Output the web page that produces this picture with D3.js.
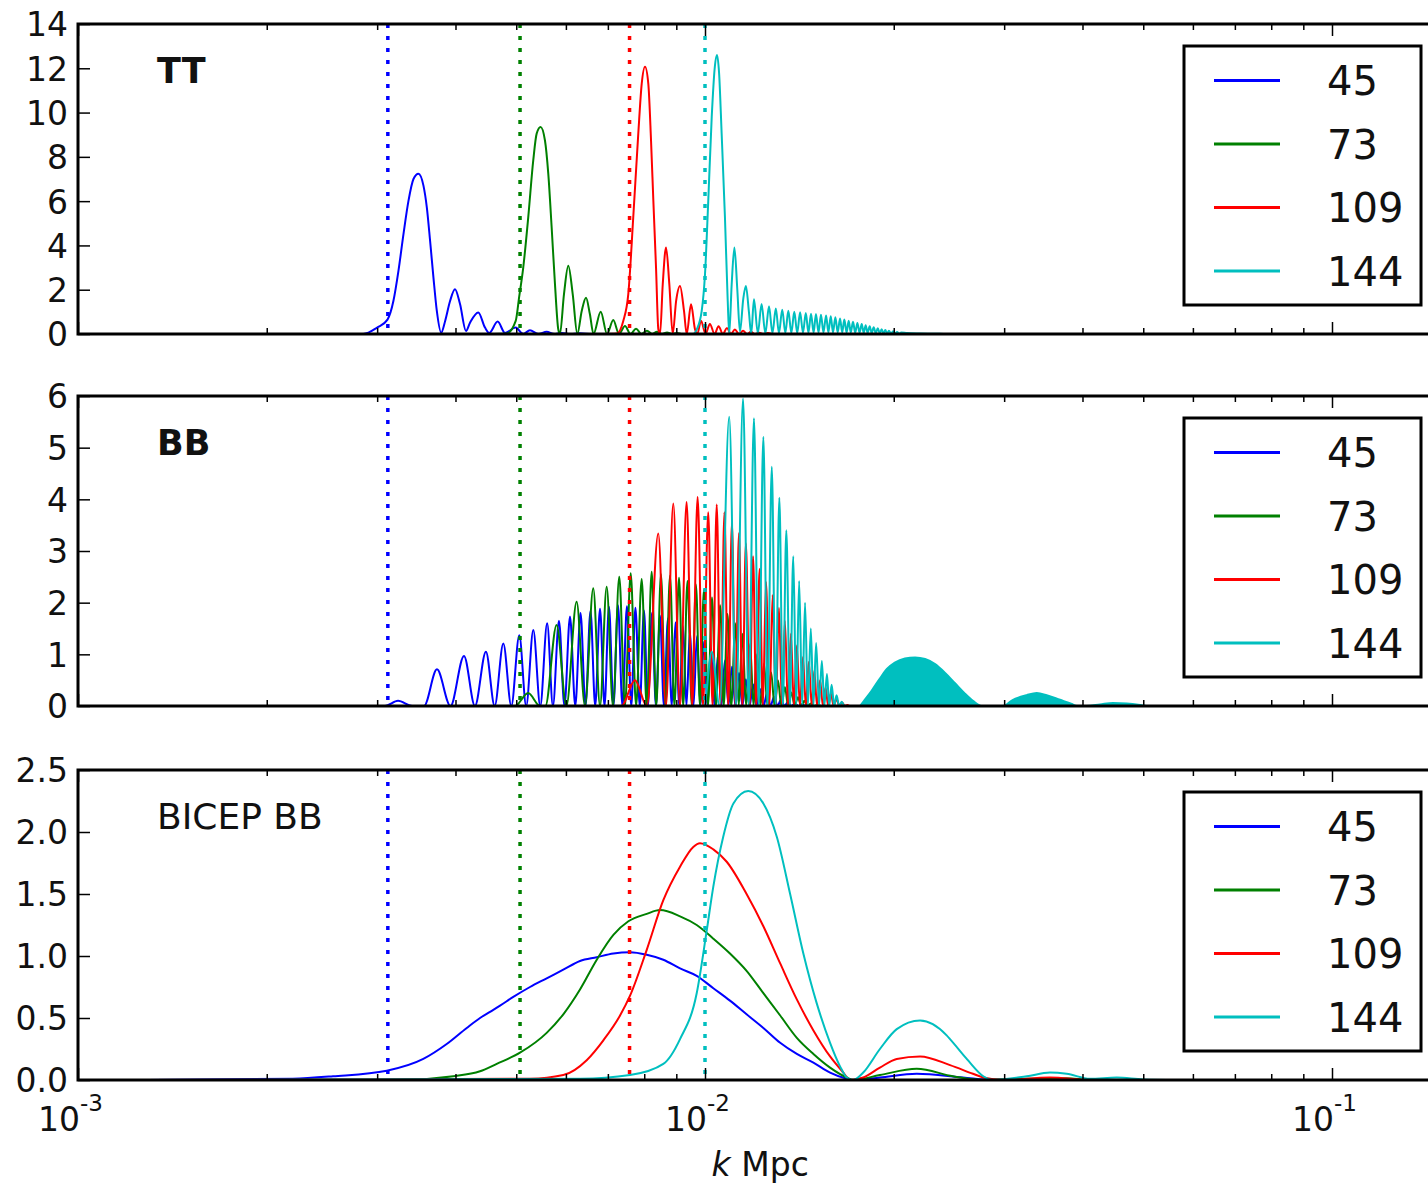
<!DOCTYPE html>
<html>
<head>
<meta charset="utf-8">
<script src="https://cdn.jsdelivr.net/npm/d3@7"></script>
<style>
  body { margin: 0; background: #fff; }
  svg { display: block; font-family: "DejaVu Sans", sans-serif; }
</style>
</head>
<body>
<svg id="chart" width="1428" height="1186"></svg>
<script>
// k values below are in units of 1e-3 Mpc^-1
var kUnit = 1e-3;

var ells = ["45", "73", "109", "144"];
var colors = ["#0000ff", "#008000", "#ff0000", "#00bfbf"];

// dotted markers, one per multipole
var vlineK = [3.12, 5.07, 7.58, 10.0];

// ---- TT kernels [k, value]
var ttBlue = [[2.5,0],[2.85,0],[3.0,0.29],[3.116,0.65],[3.185,1.5],[3.244,2.85],[3.304,4.5],[3.365,6.0],[3.428,7.0],[3.491,7.24],[3.556,6.7],[3.601,5.7],[3.644,4.2],[3.689,2.55],[3.735,1.04],[3.795,0.06],[3.851,0.59],[3.922,1.5],[3.993,2.02],[4.067,1.35],[4.157,0.14],[4.219,0.51],[4.349,0.97],[4.458,0.29],[4.529,0.05],[4.670,0.56],[4.797,0.05],[4.990,0.29],[5.130,0],[5.258,0.17],[5.421,0],[5.590,0.1],[5.75,0],[5.9,0.05],[6.1,0],[6.3,0.03],[6.6,0],[9,0]];

var ttGreen = [[4.6,0],[4.827,0.02],[4.990,0.59],[5.055,1.7],[5.130,3.0],[5.225,5.27],[5.322,7.84],[5.389,9.05],[5.468,9.35],[5.556,8.74],[5.624,7.24],[5.694,4.82],[5.764,2.25],[5.834,0.21],[5.870,0],[5.958,1.8],[6.053,3.08],[6.152,1.8],[6.257,0],[6.359,1.04],[6.460,1.64],[6.552,0.9],[6.640,0],[6.818,1.01],[6.979,0],[7.140,0.63],[7.291,0],[7.454,0.36],[7.606,0],[7.762,0.24],[7.920,0],[8.08,0.15],[8.233,0],[8.385,0.1],[8.541,0],[8.698,0.07],[8.861,0],[9.02,0.05],[9.2,0],[10,0]];

var ttRed = [[6.9,0],[7.230,0.02],[7.407,0.59],[7.545,1.8],[7.684,5.27],[7.827,9.05],[7.926,11.3],[8.023,12.07],[8.121,11.3],[8.202,8.74],[8.272,6.03],[8.354,3.0],[8.425,0.21],[8.478,0],[8.563,2.25],[8.667,3.91],[8.772,2.25],[8.882,0],[8.994,1.5],[9.123,2.17],[9.258,1.04],[9.350,0],[9.500,1.34],[9.640,0.21],[9.722,0],[9.854,0.6],[10.02,0],[10.18,0.45],[10.36,0],[10.51,0.35],[10.68,0],[10.84,0.27],[11.00,0],[11.16,0.2],[11.33,0],[11.50,0.15],[11.67,0],[11.84,0.1],[12.01,0],[12.2,0.06],[12.4,0],[12.6,0.04],[12.8,0],[14,0]];

var ttCyan = [[9.45,0],[9.57,0],[9.70,0.2],[9.88,1.04],[10.0,2.7],[10.12,6.0],[10.25,9.8],[10.37,12.1],[10.45,12.6],[10.53,11.8],[10.63,9.06],[10.76,5.27],[10.87,1.5],[10.93,0],[11.03,2.25],[11.14,3.91],[11.26,2.0],[11.37,0.1],[11.51,1.6],[11.62,2.17],[11.75,1.0],[11.85,0],[11.97,1.57],
  [12.14,0.03],[12.31,1.35],[12.48,0.03],[12.65,1.25],[12.81,0.04],[12.97,1.15],[13.12,0.04],[13.28,1.1],[13.43,0.05],[13.58,1.05],[13.73,0.05],[13.88,1.0],[14.03,0.05],[14.18,0.98],[14.33,0.06],[14.48,0.95],[14.62,0.06],[14.76,0.92],[14.90,0.06],[15.03,0.9],[15.17,0.07],[15.31,0.87],[15.45,0.07],[15.60,0.84],[15.73,0.07],[15.87,0.8],[16.00,0.07],[16.14,0.76],[16.28,0.07],[16.42,0.7],[16.55,0.07],[16.68,0.65],[16.82,0.07],[16.95,0.6],[17.08,0.07],[17.22,0.55],[17.36,0.06],[17.50,0.5],[17.64,0.06],[17.78,0.45],[17.91,0.05],[18.04,0.4],[18.17,0.05],[18.31,0.35],[18.44,0.04],[18.58,0.3],[18.72,0.04],[18.86,0.26],[19.00,0.03],[19.13,0.22],[19.26,0.03],[19.39,0.18],[19.52,0.02],[19.65,0.15],[19.8,0.02],[19.95,0.12],[20.1,0.02],[20.25,0.09],[20.4,0.01],[20.55,0.07],[21,0.04],[22,0.02],[24,0.005],[26,0]];

// ---- BB kernels [k, value]
var bbBlue = [[2.715,0],[3.088,0],[3.239,0.1],[3.410,0],[3.563,0],[3.737,0.71],[3.927,0],[4.127,0.97],[4.296,0],[4.473,1.05],[4.619,0],[4.768,1.21],[4.910,0],[5.056,1.37],[5.186,0],[5.323,1.47],[5.461,0],[5.601,1.6],[5.721,0],[5.849,1.65],[5.968,0],[6.091,1.73],[6.210,0],[6.331,1.8],[6.447,0],[6.567,1.84],[6.682,0],[6.801,1.88],[6.914,0],[7.028,1.92],[7.145,0],[7.264,1.95],[7.385,0],[7.508,1.93],[7.628,0],[7.745,1.9],[7.870,0],[7.992,1.85],[8.108,0],[8.231,1.8],[8.351,0],[8.476,1.75],[8.600,0],[8.729,1.7],[8.852,0],[8.972,1.62],[9.100,0],[9.224,1.55],[9.341,0],[9.464,1.45],[9.586,0],[9.708,1.35],[9.836,0],[9.962,1.25],[10.09,0],[10.22,1.12],[10.35,0],[10.49,1.0],[10.62,0],[10.76,0.88],[10.90,0],[11.04,0.76],[11.18,0],[11.33,0.64],[11.47,0],[11.62,0.52],[11.78,0],[11.93,0.42],[12.08,0],[12.24,0.33],[12.40,0],[12.56,0.25],[12.72,0],[12.89,0.18],[13.05,0],[13.22,0.12],[13.39,0],[13.56,0.08],[13.74,0],[13.91,0.05],[14.09,0],[14.27,0.03],[14.48,0],[20,0]];

var bbGreen = [[4.711,0],[4.977,0],[5.223,0.25],[5.455,0],[5.565,0],[5.798,1.57],[6.011,0],[6.241,2.02],[6.435,0],[6.634,2.28],[6.801,0],[6.969,2.31],[7.132,0],[7.299,2.5],[7.453,0],[7.612,2.57],[7.765,0],[7.925,2.46],[8.074,0],[8.222,2.6],[8.360,0],[8.507,2.55],[8.647,0],[8.794,2.52],[8.939,0],[9.090,2.48],[9.230,0],[9.377,2.42],[9.527,0],[9.673,2.35],[9.818,0],[9.962,2.25],[10.11,0],[10.26,2.1],[10.41,0],[10.57,1.95],[10.71,0],[10.86,1.78],[11.01,0],[11.18,1.6],[11.32,0],[11.47,1.4],[11.63,0],[11.80,1.2],[11.95,0],[12.10,1.0],[12.26,0],[12.42,0.82],[12.58,0],[12.75,0.65],[12.91,0],[13.07,0.5],[13.24,0],[13.41,0.37],[13.57,0],[13.74,0.26],[13.90,0],[14.07,0.17],[14.24,0],[14.40,0.1],[14.58,0],[14.75,0.05],[14.93,0],[15.11,0.02],[15.32,0],[20,0]];

var bbRed = [[7.054,0],[7.358,0],[7.732,0.5],[8.079,0],[8.423,3.34],[8.663,0],[8.901,3.92],[9.123,0],[9.347,3.95],[9.541,0],[9.732,4.05],[9.926,0],[10.12,3.75],[10.28,0],[10.44,3.9],[10.59,0],[10.74,3.75],[10.89,0],[11.04,3.55],[11.18,0],[11.33,3.35],[11.47,0],[11.62,3.15],[11.78,0],[11.93,2.9],[12.07,0],[12.22,2.65],[12.37,0],[12.51,2.4],[12.67,0],[12.82,2.15],[12.97,0],[13.12,1.9],[13.27,0],[13.41,1.65],[13.56,0],[13.71,1.4],[13.86,0],[14.01,1.17],[14.17,0],[14.33,0.95],[14.48,0],[14.64,0.85],[14.80,0],[14.94,0.68],[15.09,0],[15.26,0.5],[15.42,0],[15.57,0.36],[15.72,0],[15.88,0.24],[16.04,0],[16.20,0.14],[16.38,0],[16.54,0.07],[16.71,0],[16.87,0.02],[17.03,0],[20.84,0],[21.63,0.04],[22.27,0.065],[23.02,0.04],[23.88,0],[30,0]];

var bbCyan = [[9.638,0],[9.962,0],[10.25,1.05],[10.55,0],[10.93,5.6],[11.21,0],[11.50,5.95],[11.74,0],[11.97,5.57],[12.18,0],[12.39,5.21],[12.58,0],[12.78,4.63],[12.96,0],[13.14,4.03],[13.31,0],[13.48,3.4],[13.66,0],[13.83,2.9],[13.98,0],[14.13,2.42],[14.29,0],[14.44,2.0],[14.59,0],[14.75,1.5],[14.89,0],[15.04,1.22],[15.20,0],[15.36,0.87],[15.50,0],[15.65,0.62],[15.78,0],[15.92,0.41],[16.07,0],[16.21,0.21],[16.37,0],[16.52,0.08],[16.69,0],[17.41,0]];

// high-k part of the 144 BB kernel oscillates too fast to resolve: envelope
var bbCyanFill = [[17.67,0],[17.93,0.1],[18.45,0.3],[18.98,0.52],[19.52,0.72],[20.08,0.84],[20.84,0.92],[21.63,0.94],[22.44,0.91],[23.28,0.81],[24.15,0.64],[25.05,0.44],[25.98,0.24],[26.75,0.1],[27.60,0],
  [29.87,0],[30.99,0.12],[32.59,0.21],[33.81,0.25],[35.07,0.21],[36.83,0.12],[38.45,0.04],[39.16,0],
  [40.62,0],[42.65,0.03],[44.74,0.06],[47.05,0.05],[49.40,0.02],[50.63,0]];

// ---- BICEP BB kernels [k, value]
var bicepBlue = [[1.288,0],[2.2,0.01],[2.551,0.03],[3.108,0.075],[3.554,0.17],[3.873,0.29],[4.169,0.42],[4.377,0.5],[4.541,0.55],[4.711,0.6],[4.946,0.67],[5.259,0.75],[5.591,0.82],[5.943,0.89],[6.319,0.96],[6.720,0.99],[7.143,1.02],[7.594,1.03],[8.074,1.01],[8.581,0.97],[9.124,0.9],[9.700,0.84],[10.31,0.74],[10.96,0.64],[11.65,0.53],[12.39,0.42],[13.18,0.3],[14.01,0.21],[14.89,0.14],[15.83,0.06],[16.83,0.01],[17.24,0],[19.01,0.02],[21.76,0.05],[25.79,0.02],[28.80,0],[56.6,0]];

var bicepGreen = [[1.288,0],[3.263,0],[3.968,0.03],[4.377,0.07],[4.654,0.13],[5.069,0.22],[5.591,0.38],[5.943,0.53],[6.319,0.73],[6.720,0.97],[7.143,1.17],[7.547,1.28],[8.074,1.34],[8.478,1.37],[9.124,1.32],[9.700,1.25],[10.31,1.14],[10.96,1.02],[11.65,0.88],[12.39,0.7],[13.18,0.52],[14.01,0.34],[14.89,0.21],[15.83,0.1],[16.83,0.02],[17.24,0],[19.01,0.04],[21.76,0.09],[24.86,0.03],[27.79,0],[32.59,0.01],[37.74,0.015],[41.12,0],[56.6,0]];

var bicepRed = [[1.288,0],[5.259,0.01],[5.943,0.04],[6.476,0.16],[6.885,0.32],[7.320,0.52],[7.594,0.68],[8.074,1.05],[8.581,1.45],[9.124,1.72],[9.579,1.88],[9.818,1.91],[10.31,1.86],[10.83,1.76],[11.65,1.5],[12.39,1.24],[13.18,0.94],[14.01,0.65],[14.89,0.4],[15.83,0.19],[16.62,0.06],[17.03,0],[17.88,0.02],[19.01,0.1],[20.22,0.17],[22.03,0.19],[24.59,0.12],[26.75,0.05],[27.79,0.02],[29.87,0],[35.5,0.02],[41.12,0],[56.6,0]];

var bicepCyan = [[1.288,0],[6.319,0.01],[7.594,0.04],[8.581,0.13],[9.124,0.33],[9.700,0.7],[10.06,1.2],[10.31,1.56],[10.69,1.96],[11.10,2.23],[11.72,2.33],[12.39,2.23],[13.02,1.96],[13.67,1.5],[14.35,1.02],[15.07,0.62],[15.83,0.3],[16.42,0.11],[16.83,0.02],[17.24,0],[17.88,0.06],[19.01,0.25],[20.22,0.41],[22.03,0.48],[24.29,0.36],[24.59,0.33],[26.15,0.17],[26.46,0.14],[27.79,0.03],[28.80,0],[32.59,0.03],[35.5,0.06],[37.74,0.05],[41.12,0.01],[45.36,0.02],[49.94,0.005],[56.6,0]];

// axis tick values
var xMajor = [1e-3, 1e-2, 1e-1];
var xMajorExp = ["-3", "-2", "-1"];
var xMinor = [2,3,4,5,6,7,8,9].map(function(m){ return m * 1e-3; })
  .concat([2,3,4,5,6,7,8,9].map(function(m){ return m * 1e-2; }));

var panels = [
  {label: "TT", bold: true, yMax: 14, yTicks: [0,2,4,6,8,10,12,14], fmt: d3.format("d"),
   lines: [ttBlue, ttGreen, ttRed, ttCyan], fills: [null, null, null, null]},
  {label: "BB", bold: true, yMax: 6, yTicks: [0,1,2,3,4,5,6], fmt: d3.format("d"),
   lines: [bbBlue, bbGreen, bbRed, bbCyan], fills: [null, null, null, bbCyanFill]},
  {label: "BICEP BB", bold: false, yMax: 2.5, yTicks: [0,0.5,1,1.5,2,2.5], fmt: d3.format(".1f"),
   lines: [bicepBlue, bicepGreen, bicepRed, bicepCyan], fills: [null, null, null, null]}
];

// Layout
var margin = {left: 78};
var decade = 627;            // pixels per decade of k
var kMin = 1e-3, kMax = 0.15;
var plotRight = margin.left + decade * Math.log10(kMax / kMin);
var panelTop = [24, 396, 770];
var panelH = 310;

var svg = d3.select("#chart");

var xScale = d3.scaleLog()
  .domain([kMin, kMax])
  .range([margin.left, plotRight]);

panels.forEach(function(p, pi) {
  var top = panelTop[pi];
  var bottom = top + panelH;

  var yScale = d3.scaleLinear()
    .domain([0, p.yMax])
    .range([bottom, top]);

  var clipId = "clip" + pi;
  svg.append("clipPath").attr("id", clipId)
    .append("rect")
      .attr("x", margin.left).attr("y", top)
      .attr("width", plotRight - margin.left).attr("height", panelH);

  var g = svg.append("g").attr("clip-path", "url(#" + clipId + ")");

  var line = d3.line()
    .curve(d3.curveMonotoneX)
    .x(function(d){ return xScale(d[0] * kUnit); })
    .y(function(d){ return yScale(d[1]); });

  var area = d3.area()
    .curve(d3.curveMonotoneX)
    .x(function(d){ return xScale(d[0] * kUnit); })
    .y0(yScale(0))
    .y1(function(d){ return yScale(d[1]); });

  // each multipole: kernel then its dotted marker
  p.lines.forEach(function(data, i) {
    if (p.fills[i]) {
      g.append("path")
        .attr("d", area(p.fills[i]))
        .attr("fill", colors[i])
        .attr("stroke", colors[i])
        .attr("stroke-width", 2)
        .attr("stroke-linejoin", "round");
    }
    g.append("path")
      .attr("d", line(data))
      .attr("fill", "none")
      .attr("stroke", colors[i])
      .attr("stroke-width", 2)
      .attr("stroke-linejoin", "round");

    var vx = xScale(vlineK[i] * kUnit);
    g.append("line")
      .attr("x1", vx).attr("x2", vx)
      .attr("y1", top).attr("y2", bottom)
      .attr("stroke", colors[i])
      .attr("stroke-width", 3.5)
      .attr("stroke-dasharray", "4,8");
  });

  // frame
  svg.append("rect")
    .attr("x", margin.left).attr("y", top)
    .attr("width", plotRight - margin.left).attr("height", panelH)
    .attr("fill", "none").attr("stroke", "#000").attr("stroke-width", 3);

  // x ticks, inward, bottom and top
  function xTicks(axisFn, y, vals, size) {
    var a = svg.append("g")
      .attr("transform", "translate(0," + y + ")")
      .call(axisFn(xScale).tickValues(vals).tickSize(-size).tickFormat(""));
    a.select(".domain").remove();
    a.selectAll(".tick line").attr("stroke", "#000").attr("stroke-width", 1.5);
  }
  xTicks(d3.axisBottom, bottom, xMajor, 12);
  xTicks(d3.axisBottom, bottom, xMinor, 6);
  xTicks(d3.axisTop, top, xMajor, 12);
  xTicks(d3.axisTop, top, xMinor, 6);

  // y ticks with labels
  var ya = svg.append("g")
    .attr("transform", "translate(" + margin.left + ",0)")
    .call(d3.axisLeft(yScale).tickValues(p.yTicks).tickSize(-12).tickPadding(10).tickFormat(p.fmt));
  ya.select(".domain").remove();
  ya.selectAll(".tick line").attr("stroke", "#000").attr("stroke-width", 1.5);
  ya.selectAll(".tick text")
    .attr("font-size", 33)
    .attr("font-family", "DejaVu Sans")
    .attr("fill", "#111")
    .attr("dy", "0.36em");

  // panel label
  svg.append("text")
    .attr("x", 157).attr("y", top + 59)
    .attr("font-size", p.bold ? 35 : 36)
    .attr("font-weight", p.bold ? "bold" : "normal")
    .attr("fill", "#111")
    .text(p.label);

  // legend
  var lg = svg.append("g").attr("transform", "translate(1184," + (top + 22) + ")");
  lg.append("rect")
    .attr("width", 237).attr("height", 259)
    .attr("fill", "#fff").attr("stroke", "#000").attr("stroke-width", 3);
  ells.forEach(function(lab, i) {
    var ly = 34.5 + i * 63.5;
    lg.append("line")
      .attr("x1", 30).attr("x2", 96)
      .attr("y1", ly).attr("y2", ly)
      .attr("stroke", colors[i]).attr("stroke-width", 3);
    lg.append("text")
      .attr("x", 143).attr("y", ly + 14.5)
      .attr("font-size", 40)
      .attr("fill", "#111")
      .text(lab);
  });

  // x tick labels only on the lowest panel
  if (pi === panels.length - 1) {
    xMajor.forEach(function(v, i) {
      var t = svg.append("text")
        .attr("x", xScale(v) - 40)
        .attr("y", bottom + 51)
        .attr("font-size", 33)
        .attr("fill", "#111");
      t.append("tspan").text("10");
      t.append("tspan").attr("dy", -20).attr("font-size", 23).text(xMajorExp[i]);
    });

    var xl = svg.append("text")
      .attr("x", (margin.left + plotRight) / 2)
      .attr("y", bottom + 96)
      .attr("text-anchor", "middle")
      .attr("font-size", 33)
      .attr("fill", "#111");
    xl.append("tspan").attr("font-style", "italic").text("k");
    xl.append("tspan").text(" Mpc");
  }
});
</script>
</body>
</html>
